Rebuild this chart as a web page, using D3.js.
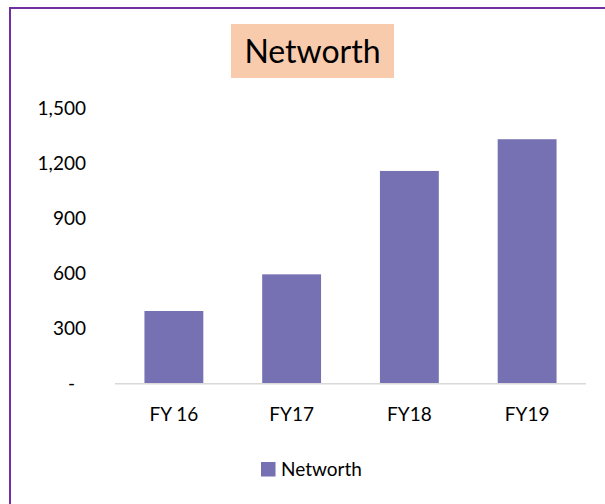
<!doctype html>
<html lang="en">
<head>
  <meta charset="utf-8" />
  <title>Networth</title>
  <script src="https://d3js.org/d3.v7.min.js"></script>
  <style>
    body { margin: 0; background: #fff; }
    text { font-family: Lato, "Open Sans", sans-serif; fill: #000; }
  </style>
</head>
<body>
  <div id="chart"></div>
  <script>
    // chart data
    const years = ["FY 16", "FY17", "FY18", "FY19"];
    const networth = [397, 597, 1161, 1334];
    const yTicks = [0, 300, 600, 900, 1200, 1500];

    const width = 605, height = 504;

    const svg = d3.select("#chart")
      .append("svg")
      .attr("width", width)
      .attr("height", height);

    // outer chart frame (runs past the right and bottom edges)
    svg.append("rect")
      .attr("x", 10)
      .attr("y", 8)
      .attr("width", 640)
      .attr("height", 540)
      .attr("fill", "#fff")
      .attr("stroke", "#7030a0")
      .attr("stroke-width", 2);

    // title with peach box
    svg.append("rect")
      .attr("x", 231)
      .attr("y", 24)
      .attr("width", 163)
      .attr("height", 54)
      .attr("fill", "#f8cbad");

    svg.append("text")
      .attr("x", 312.5)
      .attr("y", 62.5)
      .attr("text-anchor", "middle")
      .style("font-size", "32px")
      .text("Networth");

    const x = d3.scaleBand()
      .domain(years)
      .range([115, 586])
      .paddingInner(0.5)
      .paddingOuter(0.25);

    const y = d3.scaleLinear()
      .domain([0, 1500])
      .range([383.8, 108.8]);

    // y labels, zero shown as a dash
    svg.selectAll(".ylab")
      .data(yTicks)
      .join("text")
      .attr("class", "ylab")
      .attr("x", d => d === 0 ? 75 : 86)
      .attr("y", d => y(d) + 6.5)
      .attr("text-anchor", "end")
      .style("font-size", "19px")
      .text(d => d === 0 ? "-" : d3.format(",")(d));

    // bars
    svg.selectAll(".bar")
      .data(networth)
      .join("rect")
      .attr("class", "bar")
      .attr("x", (d, i) => x(years[i]))
      .attr("y", d => y(d))
      .attr("width", x.bandwidth())
      .attr("height", d => y(0) - y(d))
      .attr("fill", "#7571b2");

    // baseline
    svg.append("line")
      .attr("x1", 115)
      .attr("x2", 586)
      .attr("y1", y(0))
      .attr("y2", y(0))
      .attr("stroke", "#d9d9d9")
      .attr("stroke-width", 1.5);

    // category labels
    svg.selectAll(".xlab")
      .data(years)
      .join("text")
      .attr("class", "xlab")
      .attr("x", d => x(d) + x.bandwidth() / 2)
      .attr("y", 420.7)
      .attr("text-anchor", "middle")
      .style("font-size", "19px")
      .text(d => d);

    // legend
    svg.append("rect")
      .attr("x", 261)
      .attr("y", 462)
      .attr("width", 14.5)
      .attr("height", 14.5)
      .attr("fill", "#7571b2");

    svg.append("text")
      .attr("x", 281)
      .attr("y", 476)
      .style("font-size", "19px")
      .text("Networth");
  </script>
</body>
</html>
